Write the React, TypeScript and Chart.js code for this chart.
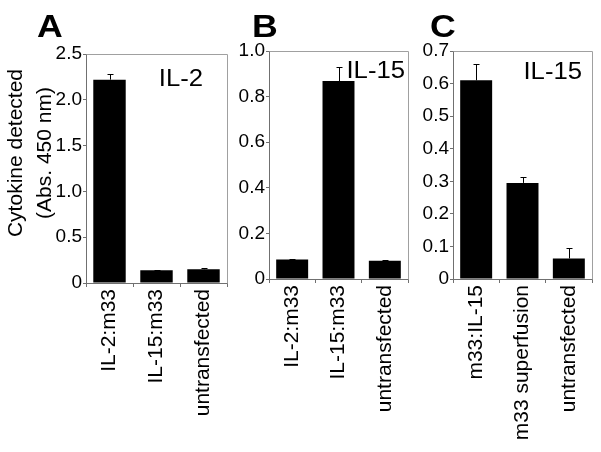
import React, { useEffect, useRef } from "react";
import { Chart, registerables } from "chart.js";

Chart.register(...registerables);

const FONT = "'Liberation Sans', Arial, Helvetica, sans-serif";

// ---- Data ----
const categoriesA = ["IL-2:m33", "IL-15:m33", "untransfected"];
const valuesA = [2.22, 0.14, 0.15];
const errorsA = [0.06, 0.006, 0.012];
const tickValuesA = [0, 0.5, 1.0, 1.5, 2.0, 2.5];
const tickLabelsA = ["0", "0.5", "1.0", "1.5", "2.0", "2.5"];

const categoriesB = ["IL-2:m33", "IL-15:m33", "untransfected"];
const valuesB = [0.085, 0.868, 0.08];
const errorsB = [0.003, 0.06, 0.002];
const tickValuesB = [0, 0.1, 0.2, 0.3, 0.4, 0.5, 0.6, 0.7, 0.8, 0.9, 1.0];
const tickLabelsB = ["0", "", "0.2", "", "0.4", "", "0.6", "", "0.8", "", "1.0"];

const categoriesC = ["m33:IL-15", "m33 superfusion", "untransfected"];
const valuesC = [0.61, 0.295, 0.063];
const errorsC = [0.05, 0.017, 0.032];
const tickValuesC = [0, 0.1, 0.2, 0.3, 0.4, 0.5, 0.6, 0.7];
const tickLabelsC = ["0", "0.1", "0.2", "0.3", "0.4", "0.5", "0.6", "0.7"];

const yAxisTitle = ["Cytokine detected", "(Abs. 450 nm)"];

// ---- Layout / style (not data) ----
const W = 601;
const H = 452;
const Y_WIDTH = 50;

type Panel = {
  categories: string[];
  values: number[];
  errors: number[];
  tickValues: number[];
  tickLabels: string[];
  max: number;
  letter: string;
  letterX: number;
  name: string;
  nameRight: number;
  nameBaseline: number;
  area: { left: number; right: number; top: number; bottom: number };
  yTitle?: string[];
};

const panels: Panel[] = [
  {
    categories: categoriesA, values: valuesA, errors: errorsA,
    tickValues: tickValuesA, tickLabels: tickLabelsA, max: 2.5,
    letter: "A", letterX: 37, name: "IL-2", nameRight: 203, nameBaseline: 86,
    area: { left: 86, right: 227, top: 54, bottom: 283 },
    yTitle: yAxisTitle,
  },
  {
    categories: categoriesB, values: valuesB, errors: errorsB,
    tickValues: tickValuesB, tickLabels: tickLabelsB, max: 1.0,
    letter: "B", letterX: 252, name: "IL-15", nameRight: 405, nameBaseline: 78,
    area: { left: 269, right: 408, top: 51, bottom: 279 },
  },
  {
    categories: categoriesC, values: valuesC, errors: errorsC,
    tickValues: tickValuesC, tickLabels: tickLabelsC, max: 0.7,
    letter: "C", letterX: 430, name: "IL-15", nameRight: 582, nameBaseline: 79,
    area: { left: 453, right: 592, top: 51, bottom: 279 },
  },
];

function stretchedText(ctx: any, text: string, x: number, y: number, sx: number, align: "left" | "right") {
  ctx.save();
  ctx.translate(x, y);
  ctx.scale(sx, 1);
  ctx.textAlign = align;
  ctx.fillText(text, 0, 0);
  ctx.restore();
}

const decorPlugin = {
  id: "decor",
  afterDraw(chart: any, _args: any, opts: any) {
    const ctx = chart.ctx;
    const { left, right, top, bottom } = chart.chartArea;
    const yScale = chart.scales.y;
    ctx.save();
    // frame: top and right
    ctx.strokeStyle = "#a0a0a0";
    ctx.lineWidth = 1;
    ctx.beginPath();
    ctx.moveTo(Math.round(left) + 0.5, Math.round(top) + 0.5);
    ctx.lineTo(Math.round(right) + 0.5, Math.round(top) + 0.5);
    ctx.lineTo(Math.round(right) + 0.5, Math.round(bottom) + 0.5);
    ctx.stroke();

    // error bars
    const meta = chart.getDatasetMeta(0);
    const vals: number[] = chart.data.datasets[0].data;
    const errs: number[] = opts.errors || [];
    ctx.strokeStyle = "#000";
    ctx.lineWidth = 1;
    meta.data.forEach((el: any, i: number) => {
      const e = errs[i];
      if (!e) return;
      const x = Math.round(el.x) + 0.5;
      const y0 = yScale.getPixelForValue(vals[i]);
      const y1 = Math.round(yScale.getPixelForValue(vals[i] + e)) + 0.5;
      ctx.beginPath();
      ctx.moveTo(x, y0);
      ctx.lineTo(x, y1);
      ctx.moveTo(x - 3, y1);
      ctx.lineTo(x + 3, y1);
      ctx.stroke();
    });

    ctx.fillStyle = "#000";
    ctx.textBaseline = "alphabetic";
    // panel letter
    ctx.font = `bold 31px ${FONT}`;
    stretchedText(ctx, opts.letter, opts.letterX, 37, 1.15, "left");

    // inner name
    ctx.font = `24px ${FONT}`;
    stretchedText(ctx, opts.name, opts.nameRight, opts.nameBaseline, 1.07, "right");

    // y title
    if (opts.yTitle) {
      ctx.font = `21px ${FONT}`;
      ctx.textAlign = "center";
      ctx.textBaseline = "middle";
      const xs = [16, 45];
      opts.yTitle.forEach((line: string, i: number) => {
        ctx.save();
        ctx.translate(xs[i], 153);
        ctx.rotate(-Math.PI / 2);
        ctx.fillText(line, 0, 0);
        ctx.restore();
      });
    }
    ctx.restore();
  },
};

function PanelChart({ p }: { p: Panel }) {
  const ref = useRef<HTMLCanvasElement | null>(null);
  useEffect(() => {
    if (!ref.current) return;
    const chart = new Chart(ref.current, {
      type: "bar",
      data: {
        labels: p.categories,
        datasets: [
          {
            data: p.values,
            backgroundColor: "#000",
            borderWidth: 0,
            barPercentage: 0.69,
            categoryPercentage: 1,
          },
        ],
      },
      options: {
        responsive: false,
        maintainAspectRatio: false,
        devicePixelRatio: 1,
        animation: false,
        layout: {
          padding: {
            left: p.area.left - Y_WIDTH,
            right: W - p.area.right,
            top: p.area.top,
            bottom: 0,
          },
        },
        plugins: {
          legend: { display: false },
          tooltip: { enabled: false },
          decor: {
            errors: p.errors,
            letter: p.letter,
            letterX: p.letterX,
            name: p.name,
            nameRight: p.nameRight,
            nameBaseline: p.nameBaseline,
            yTitle: p.yTitle,
          },
        } as any,
        scales: {
          x: {
            offset: true,
            grid: {
              offset: true,
              drawOnChartArea: false,
              drawTicks: true,
              tickLength: 4,
              color: "#707070",
            },
            border: { display: true, color: "#707070", width: 1 },
            ticks: {
              autoSkip: false,
              minRotation: 90,
              maxRotation: 90,
              padding: 2,
              color: "#000",
              font: { family: FONT, size: 21 },
            },
            afterFit: (scale: any) => {
              scale.height = H - p.area.bottom;
            },
          } as any,
          y: {
            min: 0,
            max: p.max,
            grid: {
              drawOnChartArea: false,
              drawTicks: true,
              tickLength: 3,
              color: "#707070",
            },
            border: { display: true, color: "#707070", width: 1 },
            afterBuildTicks: (scale: any) => {
              scale.ticks = p.tickValues.map((v) => ({ value: v }));
            },
            ticks: {
              padding: 1,
              color: "#000",
              font: { family: FONT, size: 19 },
              callback: (_v: any, i: number) => p.tickLabels[i],
            },
            afterFit: (scale: any) => {
              scale.width = Y_WIDTH;
            },
          } as any,
        },
      },
      plugins: [decorPlugin],
    });
    return () => chart.destroy();
  }, [p]);
  return (
    <canvas
      ref={ref}
      width={W}
      height={H}
      style={{ position: "absolute", left: 0, top: 0, width: W, height: H }}
    />
  );
}

export default function App() {
  return (
    <div
      style={{
        position: "fixed",
        left: 0,
        top: 0,
        width: W,
        height: H,
        background: "#fff",
        overflow: "hidden",
      }}
    >
      {panels.map((p) => (
        <PanelChart key={p.letter} p={p} />
      ))}
    </div>
  );
}
